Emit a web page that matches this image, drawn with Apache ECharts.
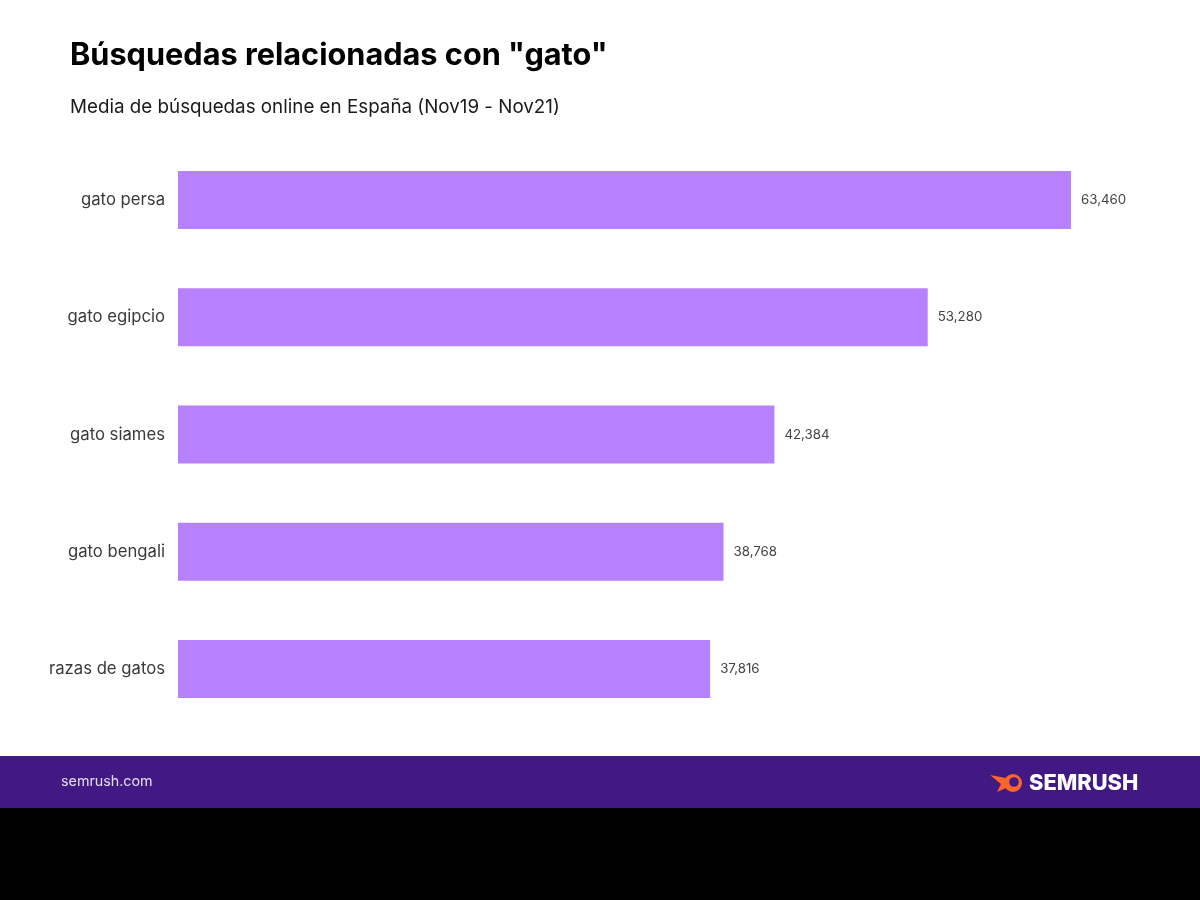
<!DOCTYPE html>
<html>
<head>
<meta charset="utf-8">
<script src="https://cdn.jsdelivr.net/npm/echarts@6/dist/echarts.min.js"></script>
<style>html,body{margin:0;padding:0;background:#fff}#c{width:1200px;height:900px}</style>
</head>
<body>
<div id="c"></div>
<script>
const categories = ["gato persa", "gato egipcio", "gato siames", "gato bengali", "razas de gatos"];
const values = [63460, 53280, 42384, 38768, 37816];
const titleText = 'Búsquedas relacionadas con "gato"';
const subtitleText = 'Media de búsquedas online en España (Nov19 - Nov21)';

const chart = echarts.init(document.getElementById('c'));
chart.setOption({
  backgroundColor: '#ffffff',
  animation: false,
  title: [
    { text: titleText, left: 65, top: 35, textStyle: { fontFamily: 'Inter', fontWeight: 'bold', fontSize: 30.7, color: '#000' } },
    { text: subtitleText, left: 65, top: 93, textStyle: { fontFamily: 'Inter', fontWeight: 'normal', fontSize: 18.8, color: '#1a1a1a' } }
  ],
  grid: { left: 178, width: 985, top: 141.5, height: 586 },
  xAxis: { type: 'value', min: 0, max: 70000, show: false },
  yAxis: {
    type: 'category', data: categories, inverse: true,
    axisLine: { show: false }, axisTick: { show: false },
    axisLabel: { fontFamily: 'Inter', fontSize: 16.7, color: '#3a3a3a', margin: 13 }
  },
  series: [{
    type: 'bar', data: values, barWidth: 58,
    itemStyle: { color: '#b780fe' },
    label: { show: true, position: 'right', distance: 10, fontFamily: 'Inter', fontSize: 13.3, color: '#444',
      formatter: p => p.value.toLocaleString('en-US') }
  }],
  graphic: [
    { type: 'rect', shape: { x: 0, y: 756, width: 1200, height: 52 }, style: { fill: '#421983' } },
    { type: 'rect', shape: { x: 0, y: 808, width: 1200, height: 92 }, style: { fill: '#000000' } },
    { type: 'text', x: 61, y: 782, style: { text: 'semrush.com', fill: '#e6dcf5', fontFamily: 'Inter', fontSize: 14.3, verticalAlign: 'middle' } },
    { type: 'polygon', shape: { points: [[990, 775], [1006, 778], [1006, 788], [997, 792], [1001, 784]] }, style: { fill: '#ff642d' } },
    { type: 'circle', shape: { cx: 1013, cy: 783, r: 9 }, style: { fill: '#ff642d' } },
    { type: 'circle', shape: { cx: 1014, cy: 782, r: 4.8 }, style: { fill: '#421983' } },
    { type: 'text', x: 1029, y: 783, style: { text: 'SEMRUSH', fill: '#ffffff', fontFamily: 'Inter', fontWeight: 800, fontSize: 21.8, verticalAlign: 'middle' } }
  ]
});
</script>
</body>
</html>
